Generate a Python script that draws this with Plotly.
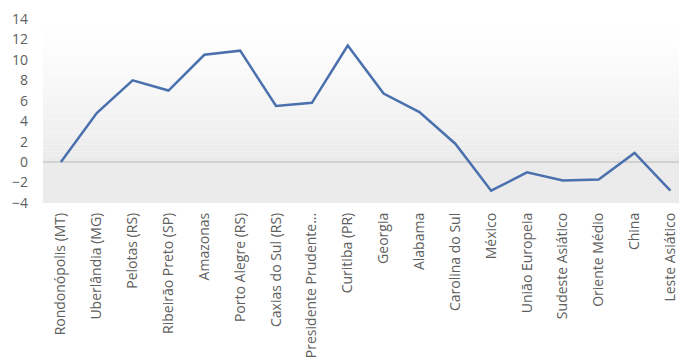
import plotly.graph_objects as go

categories = [
    "Rondonópolis (MT)", "Uberlândia (MG)", "Pelotas (RS)", "Ribeirão Preto (SP)",
    "Amazonas", "Porto Alegre (RS)", "Caxias do Sul (RS)", "Presidente Prudente...",
    "Curitiba (PR)", "Georgia", "Alabama", "Carolina do Sul", "México",
    "União Europeia", "Sudeste Asiático", "Oriente Médio", "China", "Leste Asiático",
]
values = [0.0, 4.8, 8.0, 7.0, 10.5, 10.9, 5.5, 5.8, 11.4, 6.7, 4.9, 1.8,
          -2.8, -1.0, -1.8, -1.7, 0.9, -2.8]
y_ticks = [-4, -2, 0, 2, 4, 6, 8, 10, 12, 14]

fig = go.Figure()
fig.add_trace(go.Scatter(
    x=list(range(len(categories))), y=values, mode="lines",
    line=dict(color="#4a70ad", width=2.5), hoverinfo="skip",
))

# gradient background of the plot area (white at top, light grey at bottom)
shapes = []
n = 40
top_c, bot_c = 255, 234
stop = 0.22
for i in range(n):
    y0 = stop + (1 - stop) * i / n
    y1 = stop + (1 - stop) * (i + 1) / n
    t = 1 - (i + 0.5) / n
    c = int(round(top_c + (bot_c - top_c) * t ** 1.3))
    shapes.append(dict(type="rect", xref="x domain", yref="y domain",
                       x0=0, x1=1, y0=y0, y1=y1, line=dict(width=0),
                       fillcolor=f"rgb({c},{c},{c})", layer="below"))
shapes.append(dict(type="rect", xref="x domain", yref="y domain",
                   x0=0, x1=1, y0=0, y1=stop, line=dict(width=0),
                   fillcolor="rgb(235,235,235)", layer="below"))

fig.update_layout(
    width=679, height=361,
    margin=dict(l=43, r=0, t=19, b=158),
    paper_bgcolor="white", plot_bgcolor="white",
    showlegend=False, shapes=shapes,
    font=dict(family="Open Sans, Lato, sans-serif", color="#606060", size=12),
)
fig.update_xaxes(
    tickmode="array", tickvals=list(range(len(categories))), ticktext=categories,
    tickangle=-90, range=[-0.5, 17.24], showgrid=False, zeroline=False,
    showline=False, ticks="", tickfont=dict(size=14), ticklabelstandoff=6,
)
fig.update_yaxes(
    range=[-4, 14], tickvals=y_ticks, showgrid=False,
    zeroline=True, zerolinecolor="#d2d2d2", zerolinewidth=2,
    showline=False, ticks="", tickfont=dict(size=14), ticklabelstandoff=14,
)

fig.write_html("out.html")
